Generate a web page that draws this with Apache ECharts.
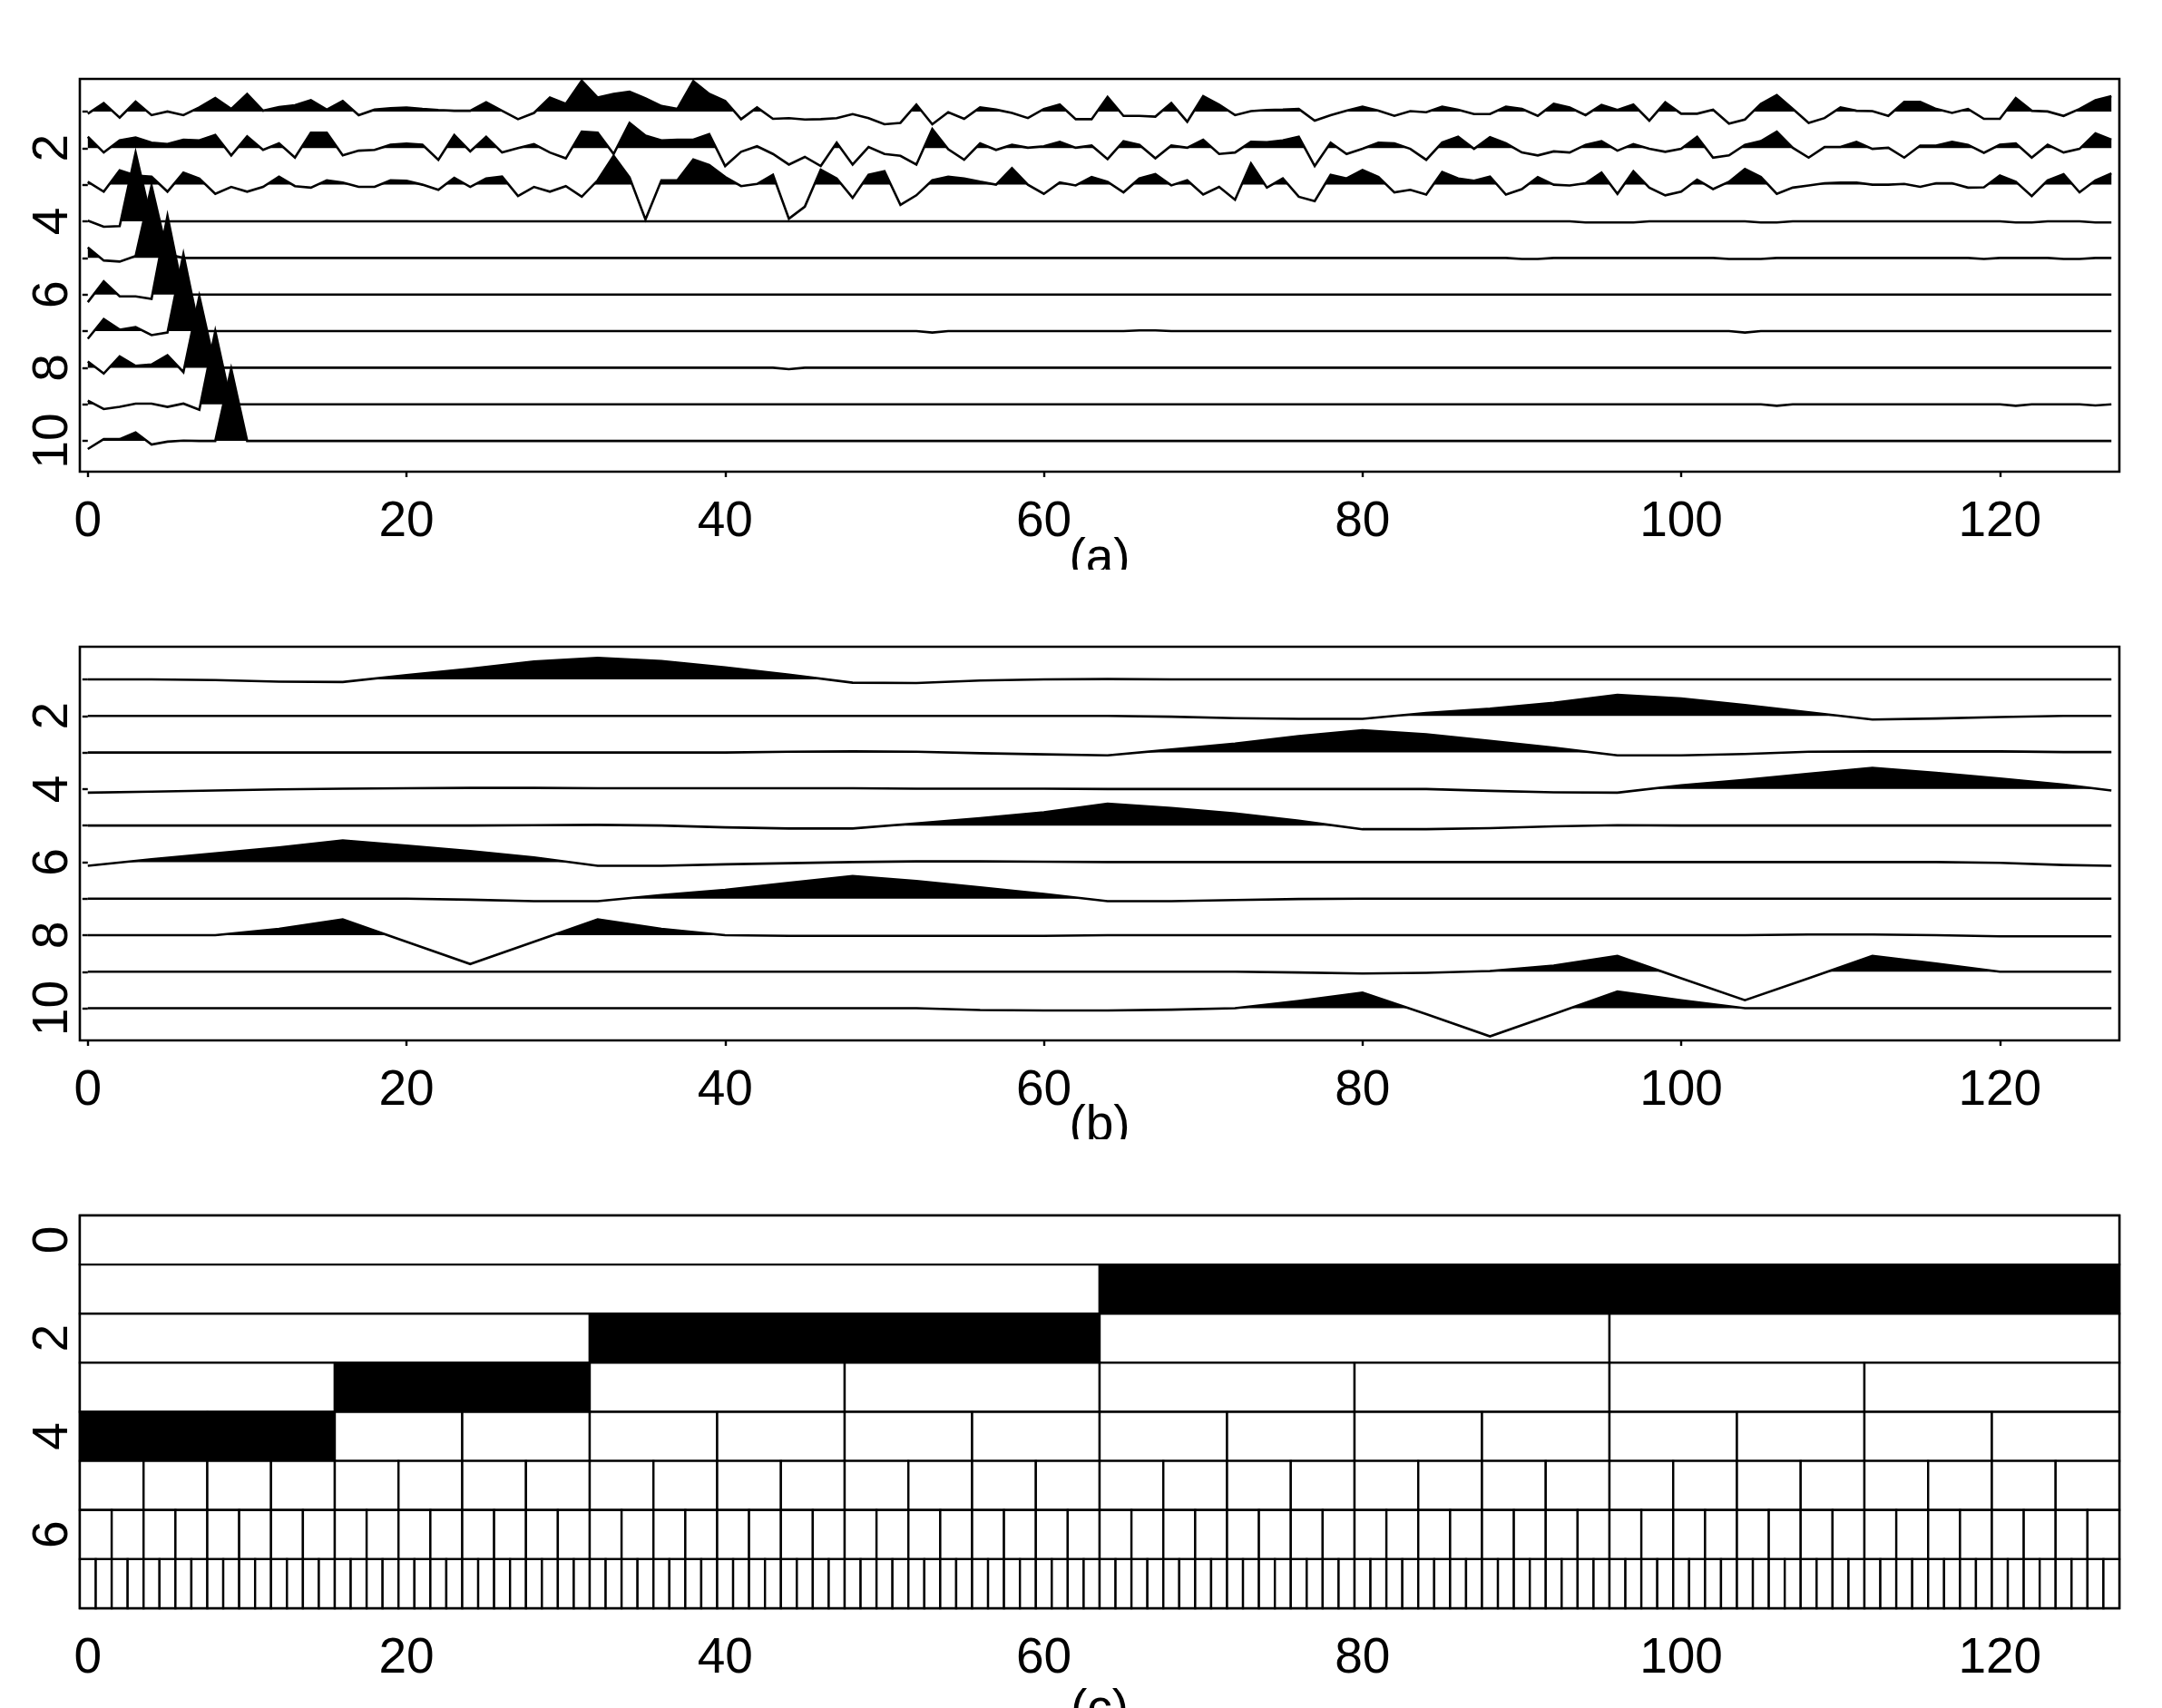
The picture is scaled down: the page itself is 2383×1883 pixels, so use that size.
<!DOCTYPE html>
<html><head><meta charset="utf-8">
<script src="https://cdn.jsdelivr.net/npm/echarts@6.0.0/dist/echarts.min.js"></script>
<style>html,body{margin:0;padding:0;background:#fff}#c{width:2383px;height:1883px}</style>
</head><body><div id="c"></div>
<script>
// ---------- axis / label data ----------
const xTickValues = [0, 20, 40, 60, 80, 100, 120];
const yTicksAB = [1, 2, 3, 4, 5, 6, 7, 8, 9, 10];
const yLabelsAB = [2, 4, 6, 8, 10];
const yLabelsC = [0, 2, 4, 6];
const panelTitles = ['(a)', '(b)', '(c)'];

// ---------- panel (a): 10 traces, one value per time index 0..127 ----------
const timeIndexA = Array.from({length: 128}, (_, i) => i);
const traceA1 = [
 -0.06,0.23,-0.17,0.27,-0.10,0.00,-0.10,0.11,0.37,0.07,0.48,0.02,0.12,0.17,0.31,0.05,
 0.29,-0.10,0.05,0.09,0.11,0.07,0.04,0.02,0.02,0.25,0.02,-0.21,-0.04,0.38,0.21,0.84,
 0.38,0.48,0.54,0.36,0.15,0.07,0.83,0.48,0.29,-0.21,0.11,-0.20,-0.18,-0.22,-0.21,-0.18,
 -0.07,-0.18,-0.35,-0.31,0.19,-0.35,-0.02,-0.20,0.11,0.05,-0.04,-0.18,0.07,0.19,-0.21,-0.21,
 0.40,-0.12,-0.12,-0.14,0.23,-0.28,0.42,0.19,-0.10,0.01,0.04,0.05,0.07,-0.25,-0.10,0.02,
 0.13,0.02,-0.12,0.01,-0.02,0.13,0.05,-0.07,-0.07,0.13,0.07,-0.12,0.21,0.11,-0.10,0.18,
 0.04,0.19,-0.25,0.25,-0.06,-0.06,0.05,-0.33,-0.22,0.21,0.45,0.07,-0.31,-0.18,0.11,0.02,
 0.01,-0.12,0.26,0.26,0.07,-0.04,0.07,-0.20,-0.20,0.37,0.02,0.00,-0.12,0.07,0.31,0.42];
const traceA2 = [
 0.31,-0.12,0.21,0.29,0.15,0.11,0.23,0.21,0.36,-0.20,0.32,-0.05,0.13,-0.26,0.42,0.42,
 -0.20,-0.07,-0.05,0.09,0.12,0.09,-0.32,0.36,-0.09,0.31,-0.12,0.00,0.11,-0.12,-0.28,0.45,
 0.42,-0.16,0.69,0.34,0.21,0.23,0.23,0.38,-0.49,-0.10,0.05,-0.16,-0.45,-0.24,-0.49,0.15,
 -0.45,0.03,-0.16,-0.21,-0.45,0.52,-0.03,-0.32,0.13,-0.05,0.09,0.01,0.05,0.17,0.01,0.07,
 -0.30,0.19,0.09,-0.28,0.07,0.01,0.23,-0.16,-0.12,0.17,0.16,0.21,0.31,-0.49,0.15,-0.16,
 -0.02,0.15,0.13,-0.02,-0.32,0.15,0.31,-0.02,0.30,0.13,-0.12,-0.20,-0.09,-0.12,0.09,0.19,
 -0.07,0.11,-0.02,-0.10,-0.02,0.31,-0.26,-0.20,0.09,0.19,0.45,0.01,-0.26,0.03,0.03,0.17,
 -0.02,0.01,-0.26,0.07,0.07,0.17,0.09,-0.13,0.09,0.13,-0.26,0.09,-0.12,-0.02,0.40,0.23];
const traceA3 = [
 0.08,-0.19,0.39,0.25,0.22,-0.19,0.33,0.17,-0.25,-0.06,-0.19,-0.06,0.22,-0.04,-0.08,0.12,
 0.06,-0.06,-0.06,0.12,0.11,0.00,-0.14,0.19,-0.06,0.17,0.22,-0.31,-0.06,-0.19,-0.04,-0.33,
 0.12,0.79,0.20,-0.95,0.12,0.12,0.69,0.54,0.21,-0.04,0.02,0.27,-0.93,-0.60,0.41,0.17,
 -0.36,0.27,0.37,-0.55,-0.29,0.12,0.22,0.17,0.08,0.00,0.45,0.00,-0.25,0.06,-0.02,0.21,
 0.08,-0.21,0.17,0.29,-0.02,0.12,-0.27,-0.06,-0.41,0.58,-0.08,0.17,-0.33,-0.45,0.27,0.17,
 0.40,0.21,-0.21,-0.14,-0.27,0.35,0.17,0.11,0.22,-0.27,-0.12,0.21,0.00,-0.02,0.04,0.33,
 -0.25,0.37,-0.08,-0.29,-0.19,0.14,-0.12,0.08,0.43,0.21,-0.25,-0.08,-0.02,0.04,0.06,0.06,
 0.00,0.00,0.02,-0.06,0.04,0.04,-0.08,-0.07,0.25,0.08,-0.31,0.12,0.29,-0.21,0.12,0.31];
const traceA4 = [
 0.02,-0.15,-0.13,1.88,0,0,0,0,0,0,0,0,0,0,0,0,
 0,0,0,0,0,0,0,0,0,0,0,0,0,0,0,0,
 0,0,0,0,0,0,0,0,0,0,0,0,0,0,0,0,
 0,0,0,0,0,0,0,0,0,0,0,0,0,0,0,0,
 0,0,0,0,0,0,0,0,0,0,0,0,0,0,0,0,
 0,0,0,0,0,0,0,0,0,0,0,0,0,0,-0.03,-0.03,
 -0.03,-0.03,0,0,0,0,0,0,0,-0.03,-0.03,0,0,0,0,0,
 0,0,0,0,0,0,0,0,0,-0.03,-0.03,0,0,0,-0.03,-0.03];
const traceA5 = [
 0.29,-0.07,-0.10,0.05,1.97,0.10,0,0,0,0,0,0,0,0,0,0,
 0,0,0,0,0,0,0,0,0,0,0,0,0,0,0,0,
 0,0,0,0,0,0,0,0,0,0,0,0,0,0,0,0,
 0,0,0,0,0,0,0,0,0,0,0,0,0,0,0,0,
 0,0,0,0,0,0,0,0,0,0,0,0,0,0,0,0,
 0,0,0,0,0,0,0,0,0,0,-0.03,-0.03,0,0,0,0,
 0,0,0,0,0,0,0,-0.03,-0.03,-0.03,0,0,0,0,0,0,
 0,0,0,0,0,0,0,-0.03,0,0,0,0,-0.03,-0.03,0,0];
const traceA6 = [
 -0.21,0.36,-0.05,-0.05,-0.12,2.15,0,0,0,0,0,0,0,0,0,0,
 0,0,0,0,0,0,0,0,0,0,0,0,0,0,0,0,
 0,0,0,0,0,0,0,0,0,0,0,0,0,0,0,0,
 0,0,0,0,0,0,0,0,0,0,0,0,0,0,0,0,
 0,0,0,0,0,0,0,0,0,0,0,0,0,0,0,0,
 0,0,0,0,0,0,0,0,0,0,0,0,0,0,0,0,
 0,0,0,0,0,0,0,0,0,0,0,0,0,0,0,0,
 0,0,0,0,0,0,0,0,0,0,0,0,0,0,0,0];
const traceA7 = [
 -0.21,0.33,0.04,0.11,-0.11,-0.04,2.10,0,0,0,0,0,0,0,0,0,
 0,0,0,0,0,0,0,0,0,0,0,0,0,0,0,0,
 0,0,0,0,0,0,0,0,0,0,0,0,0,0,0,0,
 0,0,0,0,0,-0.04,0,0,0,0,0,0,0,0,0,0,
 0,0,0.02,0.02,0,0,0,0,0,0,0,0,0,0,0,0,
 0,0,0,0,0,0,0,0,0,0,0,0,0,0,0,0,
 0,0,0,0,0,0,0,0,-0.04,0,0,0,0,0,0,0,
 0,0,0,0,0,0,0,0,0,0,0,0,0,0,0,0];
const traceA8 = [
 0.17,-0.16,0.31,0.05,0.09,0.34,-0.12,1.95,0,0,0,0,0,0,0,0,
 0,0,0,0,0,0,0,0,0,0,0,0,0,0,0,0,
 0,0,0,0,0,0,0,0,0,0,0,0,-0.04,0,0,0,
 0,0,0,0,0,0,0,0,0,0,0,0,0,0,0,0,
 0,0,0,0,0,0,0,0,0,0,0,0,0,0,0,0,
 0,0,0,0,0,0,0,0,0,0,0,0,0,0,0,0,
 0,0,0,0,0,0,0,0,0,0,0,0,0,0,0,0,
 0,0,0,0,0,0,0,0,0,0,0,0,0,0,0,0];
const traceA9 = [
 0.10,-0.13,-0.07,0.02,0.02,-0.07,0.02,-0.15,2.00,0,0,0,0,0,0,0,
 0,0,0,0,0,0,0,0,0,0,0,0,0,0,0,0,
 0,0,0,0,0,0,0,0,0,0,0,0,0,0,0,0,
 0,0,0,0,0,0,0,0,0,0,0,0,0,0,0,0,
 0,0,0,0,0,0,0,0,0,0,0,0,0,0,0,0,
 0,0,0,0,0,0,0,0,0,0,0,0,0,0,0,0,
 0,0,0,0,0,0,0,0,0,0,-0.04,0,0,0,0,0,
 0,0,0,0,0,0,0,0,0,-0.04,0,0,0,0,-0.03,0];
const traceA10 = [
 -0.22,0.05,0.05,0.23,-0.10,-0.02,0.01,0,0,1.97,0,0,0,0,0,0,
 0,0,0,0,0,0,0,0,0,0,0,0,0,0,0,0,
 0,0,0,0,0,0,0,0,0,0,0,0,0,0,0,0,
 0,0,0,0,0,0,0,0,0,0,0,0,0,0,0,0,
 0,0,0,0,0,0,0,0,0,0,0,0,0,0,0,0,
 0,0,0,0,0,0,0,0,0,0,0,0,0,0,0,0,
 0,0,0,0,0,0,0,0,0,0,0,0,0,0,0,0,
 0,0,0,0,0,0,0,0,0,0,0,0,0,0,0,0];

// ---------- panel (b): 10 traces read every 4 samples ----------
const sampleXB = [0,4,8,12,16,20,24,28,32,36,40,44,48,52,56,60,64,68,72,76,80,84,88,92,96,100,104,108,112,116,120,124,127];
const traceB1 = [0,0,-0.02,-0.06,-0.07,0.12,0.29,0.49,0.59,0.50,0.33,0.13,-0.09,-0.10,-0.03,0,0.01,0,0,0,0,0,0,0,0,0,0,0,0,0,0,0,0];
const traceB2 = [0,0,0,0,0,0,0,0,0,0,0,0,0,0,0,0,0,-0.02,-0.06,-0.08,-0.08,0.08,0.20,0.36,0.58,0.48,0.30,0.10,-0.10,-0.07,-0.03,0,0];
const traceB3 = [0,0,0,0,0,0,0,0,0,0,0,0.02,0.03,0.02,-0.02,-0.05,-0.08,0.08,0.24,0.45,0.61,0.50,0.32,0.13,-0.08,-0.08,-0.04,0.02,0.03,0.03,0.03,0.01,0.01];
const traceB4 = [-0.10,-0.07,-0.04,-0.01,0.01,0.02,0.03,0.03,0.02,0.02,0.02,0.02,0.02,0.01,0.01,0.01,0,0,0,0,0,0,-0.05,-0.09,-0.10,0.10,0.25,0.42,0.58,0.44,0.29,0.12,-0.04];
const traceB5 = [0,0,0,0,0,0,0,0.01,0.02,0,-0.05,-0.08,-0.08,0.06,0.20,0.36,0.60,0.48,0.33,0.13,-0.10,-0.10,-0.07,-0.02,0.01,0,0,0,0,0,0,0,0];
const traceB6 = [-0.10,0.08,0.24,0.40,0.59,0.45,0.30,0.13,-0.10,-0.10,-0.06,-0.03,0,0.02,0.02,0.01,0,0,0,0,0,0,0,0,0,0,0,0,0,0,-0.02,-0.08,-0.10];
const traceB7 = [0,0,0,0,0,0,-0.03,-0.07,-0.07,0.10,0.24,0.43,0.62,0.48,0.31,0.13,-0.07,-0.07,-0.04,-0.01,0,0,0,0,0,0,0,0,0,0,0,0,0];
const traceB8 = [0,0,0,0.17,0.43,-0.18,-0.79,-0.18,0.43,0.17,0,-0.02,-0.02,-0.02,-0.02,-0.02,0,0,0,0,0,0,0,0,0,0,0,0.02,0.02,0,-0.03,-0.03,-0.03];
const traceB9 = [0,0,0,0,0,0,0,0,0,0,0,0,0,0,0,0,0,0,0,-0.02,-0.05,-0.03,0.02,0.17,0.43,-0.18,-0.78,-0.18,0.43,0.22,0,0,0];
const traceB10 = [0,0,0,0,0,0,0,0,0,0,0,0,0,0,-0.05,-0.06,-0.06,-0.04,0,0.20,0.43,-0.16,-0.77,-0.16,0.46,0.22,0,0,0,0,0,0,0];

// ---------- panel (c): time-scale tiling ----------
const tilingLevels = [0, 1, 2, 3, 4, 5, 6, 7];
const signalLength = 128;
const blackCells = [[1, 1], [2, 1], [3, 1], [4, 0], [4, 1]];   // [level, cell index]

// ---------- build ----------
const tracesA = [traceA1,traceA2,traceA3,traceA4,traceA5,traceA6,traceA7,traceA8,traceA9,traceA10];
const tracesB = [traceB1,traceB2,traceB3,traceB4,traceB5,traceB6,traceB7,traceB8,traceB9,traceB10];
const LW = 2.6;

function makeWiggle(traces, xs) {
  return function (params, api) {
    const k = api.value(1);
    const vals = traces[k - 1];
    const pts = vals.map((v, i) => api.coord([xs[i], k - v]));
    const baseY = api.coord([xs[0], k])[1];
    const children = [];
    let poly = null;
    for (let i = 0; i < vals.length; i++) {
      const v = vals[i];
      if (v > 0) {
        if (!poly) {
          if (i === 0) poly = [[pts[0][0], baseY]];
          else {
            const p = vals[i - 1], t = -p / (v - p);
            poly = [[pts[i - 1][0] + t * (pts[i][0] - pts[i - 1][0]), baseY]];
          }
        }
        poly.push(pts[i]);
      } else if (poly) {
        const p = vals[i - 1], t = p / (p - v);
        poly.push([pts[i - 1][0] + t * (pts[i][0] - pts[i - 1][0]), baseY]);
        children.push({type: 'polygon', shape: {points: poly}, style: {fill: '#000'}});
        poly = null;
      }
    }
    if (poly) {
      poly.push([pts[pts.length - 1][0], baseY]);
      children.push({type: 'polygon', shape: {points: poly}, style: {fill: '#000'}});
    }
    children.push({type: 'polyline', shape: {points: pts},
      style: {stroke: '#000', lineWidth: LW, fill: 'none', lineJoin: 'miter'}});
    return {type: 'group', children};
  };
}

const cells = [];
tilingLevels.forEach(lev => {
  const n = Math.pow(2, lev), w = signalLength / n;
  for (let c = 0; c < n; c++) {
    const isBlack = blackCells.some(b => b[0] === lev && b[1] === c) ? 1 : 0;
    cells.push([c * w - 0.5, (c + 1) * w - 0.5, lev, isBlack]);
  }
});

const FONT = 'Liberation Sans';
const gridTops = [87, 713, 1340];
const gridHeights = [433, 434, 433];
const grids = gridTops.map((t, i) => ({left: 88, top: t, width: 2248, height: gridHeights[i],
  show: true, borderColor: '#000', borderWidth: 2.6, backgroundColor: 'transparent'}));

const xAxes = [0, 1, 2].map(g => ({
  type: 'value', gridIndex: g, min: -0.5, max: 127.5,
  axisLine: {show: false}, splitLine: {show: false},
  axisTick: {show: true, customValues: xTickValues, length: 6, lineStyle: {color: '#000', width: 2.4}},
  axisLabel: {show: true, customValues: xTickValues, fontSize: 55, fontFamily: FONT, color: '#000', margin: 28}
}));
const yRanges = [[0.11, 10.84], [0.106, 10.88], [-0.5, 7.5]];
const yAxes = [0, 1, 2].map(g => ({
  type: 'value', gridIndex: g, inverse: true, min: yRanges[g][0], max: yRanges[g][1],
  axisLine: {show: false}, splitLine: {show: false},
  axisTick: {show: true, customValues: g < 2 ? yTicksAB : yLabelsC, length: 6, lineStyle: {color: '#000', width: 2.4}},
  axisLabel: {show: true, customValues: g < 2 ? yLabelsAB : yLabelsC, rotate: 90, fontSize: 55,
    fontFamily: FONT, color: '#000', margin: 2}
}));

const traceIdx = [1,2,3,4,5,6,7,8,9,10].map(k => [0, k]);

const titleTops = [589, 1214, 1858];
const graphics = [];
panelTitles.forEach((t, i) => {
  graphics.push({type: 'text', x: 1212, y: titleTops[i], z: 10,
    style: {text: t, font: '55px ' + FONT, fill: '#000', textAlign: 'center', textVerticalAlign: 'top'}});
});
// the titles are cut at the bottom of each sub-figure region, as in the reference
graphics.push({type: 'rect', shape: {x: 0, y: 628, width: 2383, height: 78}, style: {fill: '#fff'}, z: 20});
graphics.push({type: 'rect', shape: {x: 0, y: 1256, width: 2383, height: 78}, style: {fill: '#fff'}, z: 20});

const chart = echarts.init(document.getElementById('c'), null, {renderer: 'canvas'});
chart.setOption({
  animation: false,
  backgroundColor: '#fff',
  grid: grids, xAxis: xAxes, yAxis: yAxes,
  graphic: graphics,
  series: [
    {type: 'custom', xAxisIndex: 0, yAxisIndex: 0, data: traceIdx, encode: {x: 0, y: 1},
      renderItem: makeWiggle(tracesA, timeIndexA), clip: true},
    {type: 'custom', xAxisIndex: 1, yAxisIndex: 1, data: traceIdx, encode: {x: 0, y: 1},
      renderItem: makeWiggle(tracesB, sampleXB), clip: true},
    {type: 'custom', xAxisIndex: 2, yAxisIndex: 2, data: cells, encode: {x: [0, 1], y: 2},
      renderItem: function (params, api) {
        const p0 = api.coord([api.value(0), api.value(2) - 0.5]);
        const p1 = api.coord([api.value(1), api.value(2) + 0.5]);
        return {type: 'rect', shape: {x: p0[0], y: p0[1], width: p1[0] - p0[0], height: p1[1] - p0[1]},
          style: {fill: api.value(3) ? '#000' : '#fff', stroke: '#000', lineWidth: 2.4}};
      }}
  ]
});
</script></body></html>
